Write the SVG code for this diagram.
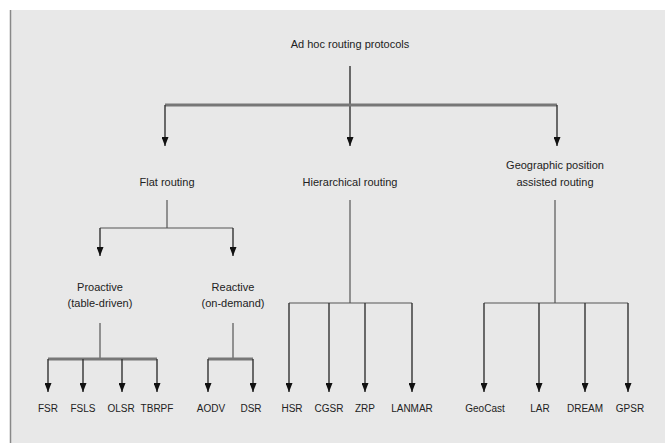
<svg xmlns="http://www.w3.org/2000/svg" width="665" height="445" viewBox="0 0 665 445">
<defs>
<marker id="ah" viewBox="0 0 9 7" refX="9" refY="3.5" markerWidth="9" markerHeight="7" markerUnits="userSpaceOnUse" orient="auto">
<path d="M0,0 L9,3.5 L0,7 Z" fill="#111"/>
</marker>
<style>
text{font-family:"Liberation Sans",Arial,sans-serif;font-size:11px;fill:#222;text-anchor:middle}
.s{font-size:10px}
.l{stroke:#555;stroke-width:1.2;fill:none}
.a{stroke:#333;stroke-width:1.4;fill:none;marker-end:url(#ah)}
.b{stroke:#777;stroke-width:3;fill:none}
</style>
</defs>
<rect x="0" y="0" width="665" height="445" fill="#ffffff"/>
<rect x="10" y="10" width="655" height="433" fill="#e8e8e8"/>
<line x1="10.5" y1="10" x2="10.5" y2="443" stroke="#888" stroke-width="1.5"/>
<g id="connectors">
<line class="a" x1="350" y1="66" x2="350" y2="146"/>
<line class="b" x1="165" y1="105" x2="557" y2="105"/>
<line class="a" x1="165" y1="105" x2="165" y2="146"/>
<line class="a" x1="557" y1="105" x2="557" y2="146"/>
<line class="l" x1="167" y1="200" x2="167" y2="228"/>
<line class="l" x1="100" y1="228" x2="233" y2="228"/>
<line class="a" x1="100" y1="228" x2="100" y2="256"/>
<line class="a" x1="233" y1="228" x2="233" y2="256"/>
<line class="l" x1="100" y1="323" x2="100" y2="359"/>
<line class="b" x1="48" y1="359" x2="157" y2="359"/>
<line class="a" x1="48" y1="359" x2="48" y2="392"/>
<line class="a" x1="83" y1="359" x2="83" y2="392"/>
<line class="a" x1="122" y1="359" x2="122" y2="392"/>
<line class="a" x1="157" y1="359" x2="157" y2="392"/>
<line class="l" x1="233" y1="323" x2="233" y2="359"/>
<line class="b" x1="208" y1="359" x2="253" y2="359"/>
<line class="a" x1="208" y1="359" x2="208" y2="392"/>
<line class="a" x1="253" y1="359" x2="253" y2="392"/>
<line class="l" x1="350" y1="200" x2="350" y2="303"/>
<line class="l" x1="289" y1="303" x2="412" y2="303"/>
<line class="a" x1="289" y1="303" x2="289" y2="392"/>
<line class="a" x1="329" y1="303" x2="329" y2="392"/>
<line class="a" x1="365" y1="303" x2="365" y2="392"/>
<line class="a" x1="412" y1="303" x2="412" y2="392"/>
<line class="l" x1="555" y1="200" x2="555" y2="303"/>
<line class="l" x1="484" y1="303" x2="628" y2="303"/>
<line class="a" x1="484" y1="303" x2="484" y2="392"/>
<line class="a" x1="539" y1="303" x2="539" y2="392"/>
<line class="a" x1="585" y1="303" x2="585" y2="392"/>
<line class="a" x1="628" y1="303" x2="628" y2="392"/>
</g>
<g id="root"><text x="350" y="48">Ad hoc routing protocols</text></g>
<g id="flat"><text x="167" y="186">Flat routing</text></g>
<g id="hier"><text x="350" y="186">Hierarchical routing</text></g>
<g id="geo"><text x="555" y="169">Geographic position</text><text x="555" y="186">assisted routing</text></g>
<g id="proactive"><text x="100" y="291">Proactive</text><text x="100" y="307">(table-driven)</text></g>
<g id="reactive"><text x="233" y="291">Reactive</text><text x="233" y="307">(on-demand)</text></g>
<g id="fsr"><text class="s" x="48" y="412">FSR</text></g>
<g id="fsls"><text class="s" x="83" y="412">FSLS</text></g>
<g id="olsr"><text class="s" x="121" y="412">OLSR</text></g>
<g id="tbrpf"><text class="s" x="157" y="412">TBRPF</text></g>
<g id="aodv"><text class="s" x="211" y="412">AODV</text></g>
<g id="dsr"><text class="s" x="251" y="412">DSR</text></g>
<g id="hsr"><text class="s" x="292" y="412">HSR</text></g>
<g id="cgsr"><text class="s" x="329" y="412">CGSR</text></g>
<g id="zrp"><text class="s" x="365" y="412">ZRP</text></g>
<g id="lanmar"><text class="s" x="412" y="412">LANMAR</text></g>
<g id="geocast"><text class="s" x="485" y="412">GeoCast</text></g>
<g id="lar"><text class="s" x="540" y="412">LAR</text></g>
<g id="dream"><text class="s" x="585" y="412">DREAM</text></g>
<g id="gpsr"><text class="s" x="630" y="412">GPSR</text></g>
</svg>
